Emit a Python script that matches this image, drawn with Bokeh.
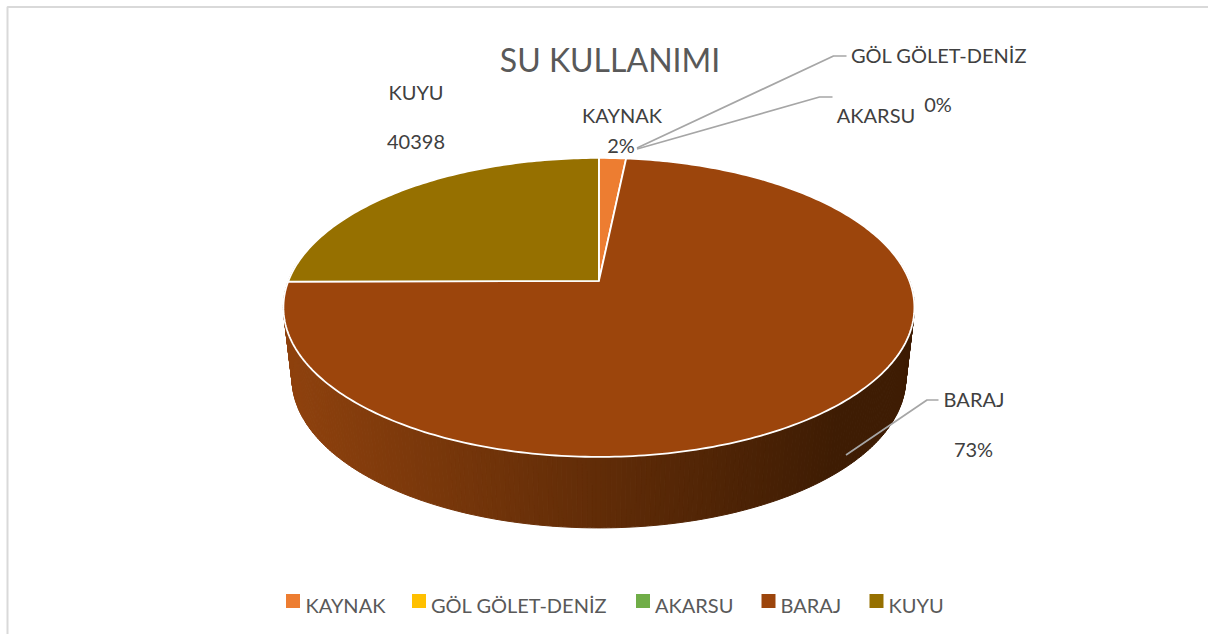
import numpy as np
from bokeh.core.properties import value
from bokeh.embed import file_html
from bokeh.models import ColumnDataSource, Range1d
from bokeh.plotting import figure
from bokeh.resources import INLINE

# ---- data
categories = ["KAYNAK", "GÖL GÖLET-DENİZ", "AKARSU", "BARAJ", "KUYU"]
values = [2650, 0, 0, 118000, 40398]
colors = ["#ED7D31", "#FFC000", "#70AD47", "#9C450C", "#967000"]
title_text = "SU KULLANIMI"
percent_labels = ["2%", "0%", "73%"]
kuyu_label = "40398"

# ---- pie projection in page pixels
W, H = 1208, 634
CX, CY = 598.4, 280.4
PERSP = 0.1773
A_TOP, B_TOP = 310.5, 144.8
A_BOT, B_BOT, CY_BOT = 302.0, 144.8, 351.4
FONT = value("Lato")


def project(theta, a, b, cy):
    """theta is clockwise from the top of the pie, in radians."""
    u, v = np.sin(theta), -np.cos(theta)
    w = 1 - PERSP * v
    return CX + a * u / w, cy + b * v / w


p = figure(width=W, height=H, output_backend="svg", toolbar_location=None,
           x_range=Range1d(0, W), y_range=Range1d(H, 0),
           min_border=0, outline_line_color=None, margin=(0, 0, 0, 0))
p.axis.visible = False
p.grid.visible = False
p.background_fill_color = "white"
p.border_fill_color = "white"

# frame of the chart area
p.line([7, 7, W], [H, 6.5, 6.5], line_color="#D9D9D9", line_width=2)

# ---- side wall of the pie, as gradient strips
t = np.radians(np.linspace(82, 278, 260))
xt, yt = project(t, A_TOP, B_TOP, CY)
xb, yb = project(t, A_BOT, B_BOT, CY_BOT)
dark = np.array([0x3E, 0x1C, 0x03])
light = np.array([0x8E, 0x41, 0x0D])
xs, ys, cs = [], [], []
for i in range(len(t) - 1):
    xs.append([xt[i], xt[i + 1], xb[i + 1], xb[i]])
    ys.append([yt[i], yt[i + 1], yb[i + 1], yb[i]])
    mid = (xt[i] + xb[i] + xt[i + 1] + xb[i + 1]) / 4
    f = np.clip((mid - 290) / (835 - 290), 0, 1)
    c = light + (dark - light) * f
    cs.append("#%02x%02x%02x" % tuple(int(round(q)) for q in c))
p.patches("xs", "ys", source=ColumnDataSource(dict(xs=xs, ys=ys, c=cs)),
          fill_color="c", line_color="c", line_width=1)

# ---- top face, one slice per non-empty value
total = sum(values)
edges = np.cumsum([0] + values) / total * 2 * np.pi
for i, val in enumerate(values):
    if val <= 0:
        continue
    a = np.linspace(edges[i], edges[i + 1], max(4, int(val / total * 400)))
    x, y = project(a, A_TOP, B_TOP, CY)
    p.patch(np.r_[CX, x], np.r_[CY, y], fill_color=colors[i],
            line_color="white", line_width=1.8, line_join="round")

# ---- leader lines
LEADER = "#A6A6A6"
for lx, ly in [([636.5, 833, 846], [147.5, 55.5, 55.5]),
               ([636.5, 819, 832], [148.5, 96.5, 96.5]),
               ([845.5, 926.5, 938], [454.5, 399.5, 399.5])]:
    p.line(lx, ly, line_color=LEADER, line_width=1.7)

# ---- texts
p.text([609.5], [59], text=[title_text], text_font=FONT, text_font_size="32px",
       text_color="#595959", text_align="center", text_baseline="middle")
ink = "#404040"
label_x = [621.5, 938.5, 415.5, 415.5, 620.5, 937.5, 973]
label_y = [114, 54, 91, 141, 144, 103.5, 448.5]
label_t = [categories[0], categories[1], categories[4], kuyu_label,
           percent_labels[0], percent_labels[1], percent_labels[2]]
p.text(label_x, label_y, text=label_t, text_font=FONT, text_font_size="20px",
       text_color=ink, text_align="center", text_baseline="middle")
p.text([875.5, 973.5], [114, 398.5], text=[categories[2], categories[3]], text_font=FONT,
       text_font_size="20px", text_color=ink, text_align="center", text_baseline="middle")

# ---- legend
swatch_x = [292.5, 418.5, 642.5, 768, 876]
text_x = [305, 430.5, 654.5, 780, 888]
p.rect(swatch_x, [600.5] * 5, width=14, height=14, fill_color=colors, line_color=None)
p.text(text_x, [604.5] * 5, text=categories, text_font=FONT, text_font_size="20px",
       text_color="#595959", text_align="left", text_baseline="middle")

open("out.html", "w").write(file_html(p, INLINE))
